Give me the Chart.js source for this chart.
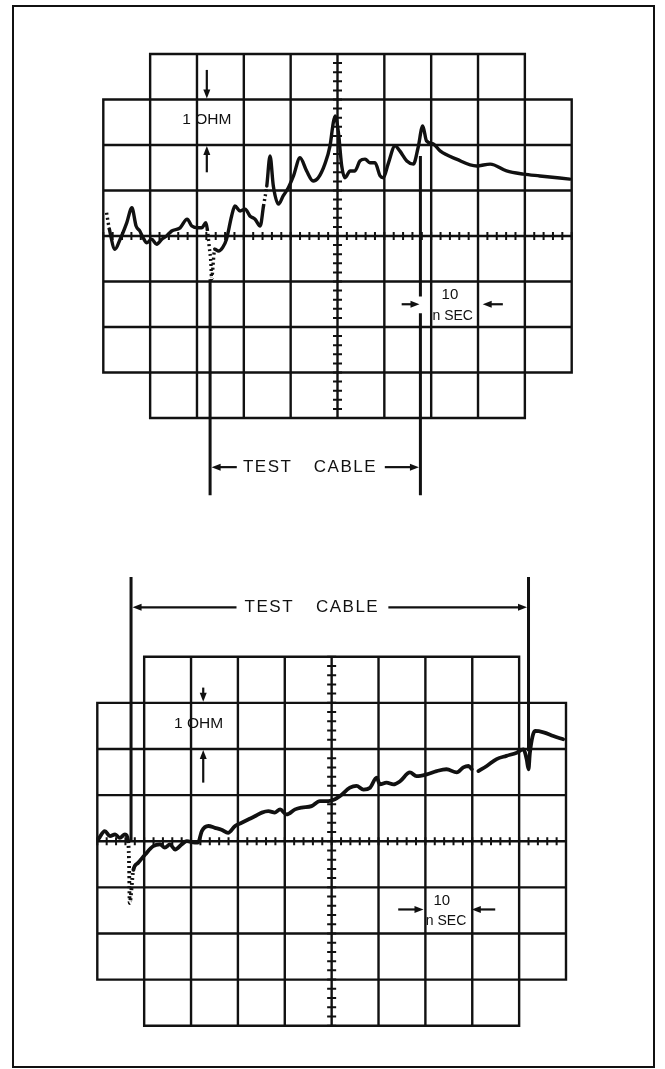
<!DOCTYPE html>
<html>
<head>
<meta charset="utf-8">
<title>TDR traces</title>
<script src="https://cdn.jsdelivr.net/npm/chart.js@4/dist/chart.umd.min.js"></script>
<style>
  html, body { margin: 0; padding: 0; background: #fff; }
  body { width: 665px; height: 1069px; position: relative; overflow: hidden; }
  .frame {
    position: absolute; left: 12px; top: 5px; width: 643px; height: 1063px;
    border: 2px solid #111; box-sizing: border-box;
  }
  canvas { position: absolute; left: 0; }
  #top { top: 0; }
  #bottom { top: 534px; }
</style>
</head>
<body>
<div class="frame"></div>
<canvas id="top" width="665" height="534"></canvas>
<canvas id="bottom" width="665" height="535"></canvas>
<script>
// Graticule: 10 ns per division across, 1 ohm per division up.
var gridTimeNs = [0, 10, 20, 30, 40, 50, 60, 70, 80, 90, 100];
var gridOhms = [-4, -3, -2, -1, 0, 1, 2, 3, 4];

var topTimeNs = [
  0.7, 1.3, 2.5, 3.6, 5.0, 6.1, 7.0, 7.8, 8.5, 9.3,
  10.3, 11.4, 12.5, 13.5, 14.6, 16.4, 17.9, 18.9, 20.3, 21.0,
  21.9, 22.2, 22.6, 23.0, 23.1, 23.8, 24.6, 25.5, 26.3, 27.4,
  28.1, 29.2, 30.3, 31.3, 32.4, 33.5, 34.2, 34.9, 35.6, 36.3,
  37.4, 38.4, 39.5, 40.6, 42.0, 43.4, 44.8, 45.9, 47.3, 48.4,
  49.1, 49.5, 50.2, 50.9, 51.6, 52.7, 53.7, 54.8, 55.9, 56.9,
  58.0, 59.1, 59.8, 60.8, 62.3, 63.3, 64.8, 66.2, 67.2, 68.2,
  69.0, 70.5, 71.9, 75.4, 79.7, 82.6, 86.1, 89.7, 93.2, 99.6
];
var topOhms = [
  0.51, 0.15, -0.29, -0.07, 0.29, 0.62, 0.22, 0.11, -0.04, -0.15,
  -0.07, -0.18, -0.07, 0.00, 0.11, 0.18, 0.37, 0.22, 0.18, 0.18,
  0.29, 0.15, -0.22, -0.66, -0.95, -0.29, -0.33, -0.25, -0.07, 0.44,
  0.66, 0.55, 0.59, 0.44, 0.37, 0.22, 0.66, 1.10, 1.76, 1.10,
  0.70, 0.88, 1.06, 1.32, 1.72, 1.43, 1.21, 1.28, 1.58, 1.98,
  2.49, 2.64, 2.27, 1.54, 1.28, 1.43, 1.43, 1.65, 1.69, 1.61,
  1.61, 1.32, 1.28, 1.58, 1.98, 1.87, 1.65, 1.58, 1.94, 2.42,
  2.09, 2.02, 1.87, 1.69, 1.54, 1.58, 1.43, 1.36, 1.32, 1.25
];
// segments (by starting point) where the beam moved fast and left dots
var topDotted = [0, 21, 22, 23, 24, 36];

var bottomTimeNs = [
  0.2, 1.6, 2.7, 3.8, 4.8, 5.9, 6.6, 6.8, 6.9, 7.7,
  8.7, 10.2, 11.9, 13.4, 14.4, 15.5, 16.6, 18.0, 19.1, 20.8,
  21.5, 22.3, 23.7, 25.1, 26.5, 27.9, 29.4, 30.8, 32.2, 33.6,
  35.1, 36.5, 37.9, 39.0, 40.4, 42.2, 43.6, 45.7, 47.5, 49.3,
  50.7, 51.8, 53.9, 55.3, 56.8, 58.2, 59.6, 60.3, 61.7, 63.2,
  64.6, 66.7, 68.1, 70.3, 72.4, 74.5, 76.7, 78.1, 79.2, 79.9,
  80.6, 81.3, 83.1, 85.2, 87.3, 89.5, 90.9, 91.6, 92.0, 92.3,
  93.4, 95.2, 97.3, 99.4
];
var bottomOhms = [
  0.04, 0.22, 0.11, 0.15, 0.07, 0.15, 0.00, -0.62, -1.34, -0.62,
  -0.47, -0.29, -0.11, -0.07, -0.14, -0.07, -0.18, -0.07, 0.00, -0.03,
  -0.03, 0.22, 0.33, 0.29, 0.25, 0.18, 0.33, 0.40, 0.47, 0.54,
  0.62, 0.65, 0.62, 0.69, 0.58, 0.69, 0.73, 0.76, 0.87, 0.87,
  0.91, 0.98, 1.16, 1.20, 1.12, 1.16, 1.38, 1.23, 1.27, 1.23,
  1.30, 1.49, 1.41, 1.45, 1.52, 1.56, 1.49, 1.60, 1.63, 1.56,
  null, 1.52, 1.63, 1.78, 1.85, 1.92, 1.99, 1.78, 1.56, 1.92,
  2.39, 2.36, 2.28, 2.21
];
var bottomDotted = [6, 7, 8];

var INK = '#111';
var FONT = '"Liberation Sans", Arial, sans-serif';


var Scope = function(canvas, options) {
  this.options_ = options;
  var points = options.time.map(function(t, i) {
    return {x: t, y: options.ohms[i]};
  });
  var dotted = options.dotted;
  this.chart_ = new Chart(canvas, {
    type: 'line',
    data: {
      datasets: [{
        data: points,
        borderColor: INK,
        borderWidth: options.traceWidth,
        borderJoinStyle: 'round',
        borderCapStyle: 'round',
        pointRadius: 0,
        cubicInterpolationMode: 'monotone',
        spanGaps: false,
        segment: {
          borderDash: function(ctx) {
            return dotted.indexOf(ctx.p0DataIndex) >= 0 ? [2, 3] : undefined;
          },
          borderCapStyle: function(ctx) {
            return dotted.indexOf(ctx.p0DataIndex) >= 0 ? 'butt' : undefined;
          },
        },
      }],
    },
    options: {
      responsive: false,
      animation: false,
      devicePixelRatio: 1,
      events: [],
      layout: {padding: options.padding},
      scales: {
        x: {type: 'linear', min: 0, max: 100, display: false},
        y: {type: 'linear', min: -4, max: 4, display: false},
      },
      plugins: {legend: {display: false}, tooltip: {enabled: false}},
    },
    plugins: [
      {id: 'graticule', beforeDatasetsDraw: this.drawGraticule_.bind(this)},
      {id: 'notes', afterDatasetsDraw: this.drawNotes_.bind(this)},
    ],
  });
};


Scope.prototype.drawGraticule_ = function(chart) {
  var ctx = chart.ctx;
  var xs = chart.scales.x;
  var ys = chart.scales.y;
  var nx = gridTimeNs.length - 1;
  var ny = gridOhms.length - 1;
  ctx.save();
  ctx.strokeStyle = INK;
  ctx.lineWidth = 2.4;
  ctx.lineCap = 'square';
  ctx.beginPath();
  // the outer columns and rows stop one division short (cut corners)
  for (var i = 0; i <= nx; i++) {
    var edge = i == 0 || i == nx;
    var px = xs.getPixelForValue(gridTimeNs[i]);
    ctx.moveTo(px, ys.getPixelForValue(gridOhms[edge ? ny - 1 : ny]));
    ctx.lineTo(px, ys.getPixelForValue(gridOhms[edge ? 1 : 0]));
  }
  for (var j = 0; j <= ny; j++) {
    var edge = j == 0 || j == ny;
    var py = ys.getPixelForValue(gridOhms[j]);
    ctx.moveTo(xs.getPixelForValue(gridTimeNs[edge ? 1 : 0]), py);
    ctx.lineTo(xs.getPixelForValue(gridTimeNs[edge ? nx - 1 : nx]), py);
  }
  ctx.stroke();

  // minor ticks on the centre lines, five per division
  var cx = xs.getPixelForValue(gridTimeNs[nx / 2]);
  var cy = ys.getPixelForValue(0);
  ctx.beginPath();
  for (var k = 0; k <= nx * 5; k++) {
    var tx = xs.getPixelForValue(gridTimeNs[0] + k * 2);
    ctx.moveTo(tx, cy - 4);
    ctx.lineTo(tx, cy + 4);
  }
  for (var k = 0; k <= ny * 5; k++) {
    var ty = ys.getPixelForValue(gridOhms[0] + k * 0.2);
    ctx.moveTo(cx - 4.5, ty);
    ctx.lineTo(cx + 4.5, ty);
  }
  ctx.lineWidth = 2;
  ctx.lineCap = 'butt';
  ctx.stroke();
  ctx.restore();
};


Scope.prototype.drawNotes_ = function(chart) {
  var n = this.options_.notes;
  var ctx = chart.ctx;
  var xs = chart.scales.x;
  var ys = chart.scales.y;
  var X = function(v) { return xs.getPixelForValue(v); };
  var Y = function(v) { return ys.getPixelForValue(v); };

  ctx.save();
  ctx.strokeStyle = INK;
  ctx.fillStyle = INK;

  // cable end markers
  ctx.lineWidth = 3;
  ctx.beginPath();
  n.markers.forEach(function(m) {
    ctx.moveTo(X(m.x), Y(m.from));
    ctx.lineTo(X(m.x), Y(m.to));
  });
  ctx.stroke();

  ctx.lineWidth = 2.2;
  var c = n.cable;
  arrow(ctx, X(c.leftEnd), Y(c.y), X(c.left) + 1.5, Y(c.y));
  arrow(ctx, X(c.rightStart), Y(c.y), X(c.right) - 1.5, Y(c.y));

  var o = n.ohm;
  arrow(ctx, X(o.x), Y(o.downFrom), X(o.x), Y(3) - 1);
  arrow(ctx, X(o.x), Y(o.upFrom), X(o.x), Y(2) + 1);

  var s = n.nsec;
  arrow(ctx, X(s.leftFrom), Y(s.y), X(s.leftTo), Y(s.y));
  arrow(ctx, X(s.rightFrom), Y(s.y), X(s.rightTo), Y(s.y));

  ctx.textAlign = 'center';
  ctx.textBaseline = 'middle';
  ctx.font = '17px ' + FONT;
  ctx.letterSpacing = '1.5px';
  ctx.fillText('TEST', X(c.testX), Y(c.y));
  ctx.fillText('CABLE', X(c.cableX), Y(c.y));
  ctx.letterSpacing = '0px';
  ctx.font = '15.5px ' + FONT;
  ctx.fillText('1 OHM', X(o.textX), Y(o.textY));
  ctx.font = '15px ' + FONT;
  ctx.fillText('10', X(s.tenX), Y(s.tenY));
  ctx.font = '14px ' + FONT;
  ctx.fillText('n SEC', X(s.secX), Y(s.secY));
  ctx.restore();
};


var arrow = function(ctx, x0, y0, x1, y1) {
  var a = Math.atan2(y1 - y0, x1 - x0);
  var len = 9;
  var half = 3.5;
  var cos = Math.cos(a);
  var sin = Math.sin(a);
  ctx.beginPath();
  ctx.moveTo(x0, y0);
  ctx.lineTo(x1 - cos * len * 0.7, y1 - sin * len * 0.7);
  ctx.stroke();
  ctx.beginPath();
  ctx.moveTo(x1, y1);
  ctx.lineTo(x1 - cos * len + sin * half, y1 - sin * len - cos * half);
  ctx.lineTo(x1 - cos * len - sin * half, y1 - sin * len + cos * half);
  ctx.closePath();
  ctx.fill();
};


document.addEventListener('DOMContentLoaded', function(e) {
  new Scope(document.getElementById('top'), {
    time: topTimeNs,
    ohms: topOhms,
    dotted: topDotted,
    traceWidth: 3.4,
    padding: {left: 103.3, right: 93.3, top: 54, bottom: 116},
    notes: {
      markers: [
        {x: 22.8, from: -0.95, to: -5.7},
        {x: 67.7, from: 1.76, to: -1.33},
        {x: 67.7, from: -1.70, to: -5.7},
      ],
      cable: {y: -5.08, left: 22.8, right: 67.7, leftEnd: 28.5,
               rightStart: 60.1, testX: 35.1, cableX: 51.7},
      ohm: {x: 22.1, textX: 22.1, textY: 2.56, downFrom: 3.65, upFrom: 1.4},
      nsec: {y: -1.5, leftFrom: 63.7, leftTo: 67.5, rightFrom: 85.3,
             rightTo: 81.0, tenX: 74.0, tenY: -1.3, secX: 74.6, secY: -1.76},
    },
  });
  new Scope(document.getElementById('bottom'), {
    time: bottomTimeNs,
    ohms: bottomOhms,
    dotted: bottomDotted,
    traceWidth: 3.8,
    padding: {left: 97.3, right: 99, top: 122.7, bottom: 43.3},
    notes: {
      markers: [
        {x: 7.2, from: 5.73, to: 0.0},
        {x: 92.0, from: 5.73, to: 1.95},
      ],
      cable: {y: 5.07, left: 7.2, right: 92.0, leftEnd: 29.7,
               rightStart: 62.1, testX: 36.7, cableX: 53.4},
      ohm: {x: 22.6, textX: 21.6, textY: 2.54, downFrom: 3.33, upFrom: 1.27},
      nsec: {y: -1.48, leftFrom: 64.2, leftTo: 69.6, rightFrom: 84.9,
             rightTo: 79.9, tenX: 73.5, tenY: -1.3, secX: 74.4, secY: -1.74},
    },
  });
});
</script>
</body>
</html>
